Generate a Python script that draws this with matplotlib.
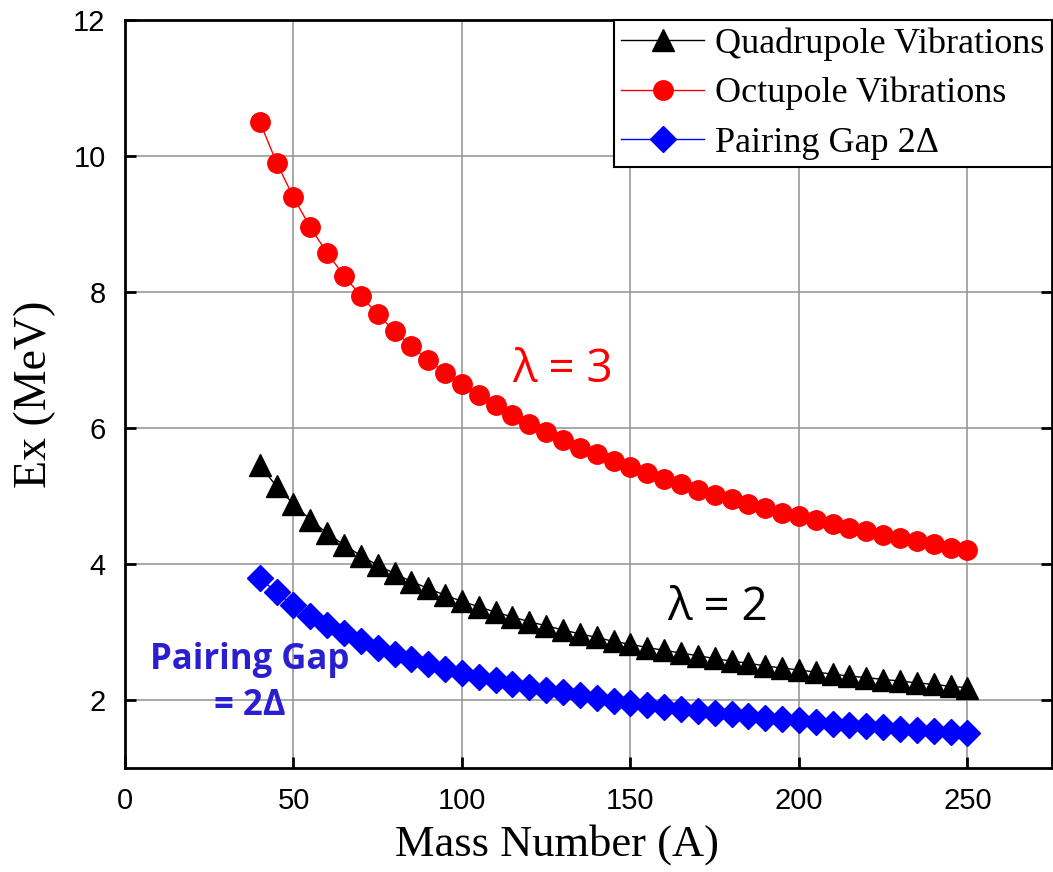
import matplotlib.pyplot as plt

# mass numbers
A = list(range(40, 255, 5))

# excitation energies (MeV)
quad = [5.45, 5.14, 4.88, 4.65, 4.45, 4.28, 4.12, 3.98, 3.86, 3.74,
        3.64, 3.54, 3.45, 3.37, 3.29, 3.22, 3.15, 3.09, 3.03, 2.97,
        2.92, 2.86, 2.82, 2.77, 2.73, 2.69, 2.65, 2.61, 2.57, 2.54,
        2.50, 2.47, 2.44, 2.41, 2.38, 2.35, 2.33, 2.30, 2.28, 2.25,
        2.23, 2.20, 2.18]
octu = [10.50, 9.90, 9.39, 8.95, 8.57, 8.24, 7.94, 7.67, 7.42, 7.20,
        7.00, 6.81, 6.64, 6.48, 6.33, 6.19, 6.06, 5.94, 5.82, 5.71,
        5.61, 5.51, 5.42, 5.33, 5.25, 5.17, 5.09, 5.02, 4.95, 4.88,
        4.82, 4.75, 4.70, 4.64, 4.58, 4.53, 4.48, 4.43, 4.38, 4.33,
        4.29, 4.24, 4.20]
pair = [3.79, 3.58, 3.39, 3.24, 3.10, 2.98, 2.87, 2.77, 2.68, 2.60,
        2.53, 2.46, 2.40, 2.34, 2.29, 2.24, 2.19, 2.15, 2.11, 2.07,
        2.03, 1.99, 1.96, 1.93, 1.90, 1.87, 1.84, 1.81, 1.79, 1.76,
        1.74, 1.72, 1.70, 1.67, 1.65, 1.63, 1.61, 1.60, 1.58, 1.56,
        1.54, 1.53, 1.52]

fig = plt.figure(figsize=(10.53, 8.72), dpi=100)
ax = fig.add_axes([0.1187, 0.1193, 0.880, 0.858])

ax.plot(A, quad, color='black', lw=1, marker='^', ms=16, label='Quadrupole Vibrations', zorder=3)
ax.plot(A, octu, color='red', lw=1, marker='o', ms=14, label='Octupole Vibrations', zorder=3)
ax.plot(A, pair, color='blue', lw=1, marker='D', ms=13, label='Pairing Gap 2Δ', zorder=3)

ax.set_xlim(0, 275)
ax.set_ylim(1, 12)
ax.set_xticks([0, 50, 100, 150, 200, 250])
ax.set_yticks([2, 4, 6, 8, 10, 12])
ax.grid(True, color='#999999', lw=1.2)
ax.set_axisbelow(True)
ax.tick_params(direction='in', length=8, width=2, right=True, top=False, labelsize=21, pad=14)
for lab in ax.get_xticklabels() + ax.get_yticklabels():
    lab.set_family('Liberation Sans')
for s in ax.spines.values():
    s.set_linewidth(2)

ax.set_xlabel('Mass Number (A)', family='Liberation Serif', fontsize=32, labelpad=6)
ax.xaxis.set_label_coords(0.466, -0.075)
ax.set_ylabel('Ex (MeV)', family='Liberation Serif', fontsize=33, labelpad=12)

ax.text(130, 6.85, 'λ = 3', color='red', fontsize=33, family='Open Sans', ha='center', va='center')
ax.text(176, 3.35, 'λ = 2', color='black', fontsize=33, family='Open Sans', ha='center', va='center')
ax.text(37, 2.25, 'Pairing Gap\n= 2Δ', color='#2a1fd0', fontsize=25, family='Open Sans',
        fontweight='bold', ha='center', va='center', linespacing=1.4)

leg = ax.legend(loc='upper right', bbox_to_anchor=(1.0, 1.0), prop={'family': 'Liberation Serif', 'size': 26},
                frameon=True, fancybox=False, edgecolor='black', framealpha=1,
                handlelength=2.3, handletextpad=0.3, borderpad=0.2, labelspacing=0.45,
                borderaxespad=0)
leg.get_frame().set_linewidth(1.5)

fig.savefig('out.png', dpi=100)
